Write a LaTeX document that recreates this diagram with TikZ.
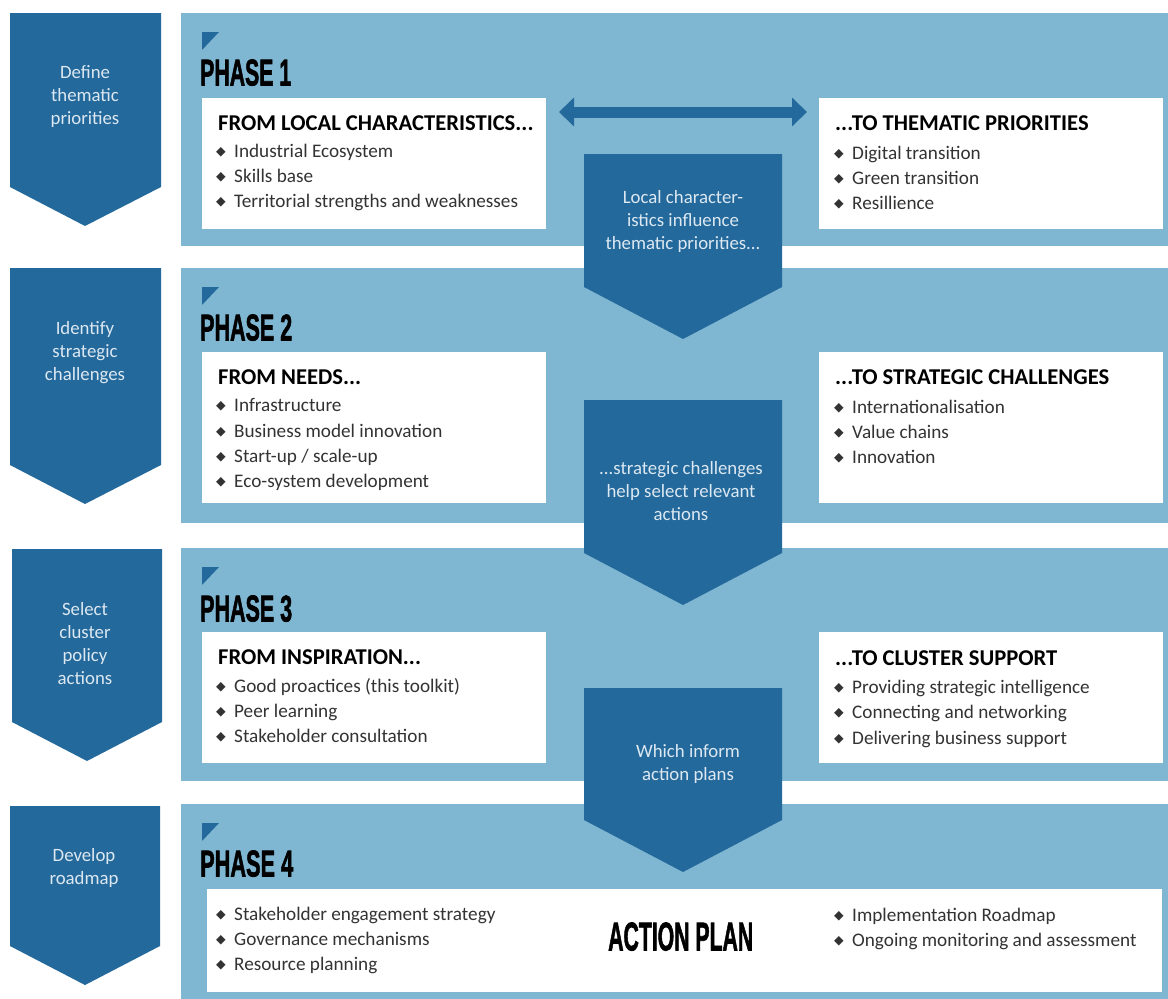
\documentclass[tikz,border=0pt]{standalone}
\usepackage{fontspec}
\setmainfont{Carlito}
\newfontfamily\symfont{DejaVu Sans}
\newfontfamily\headfont[FakeBold=2]{Liberation Sans Bold}
\usetikzlibrary{arrows.meta}
\definecolor{dkblue}{HTML}{24699B}
\definecolor{ltblue}{HTML}{7FB6D2}
\definecolor{bodygray}{HTML}{333333}
\definecolor{paletxt}{HTML}{DCE8F2}
\newcommand\dia{\makebox[18pt][l]{\raisebox{1.2pt}{\symfont\fontsize{12.5}{12.5}\selectfont ◆}}}
\newcommand\phasetxt[3]{\resizebox{#2pt}{#3pt}{\headfont #1}}
\tikzset{
  chev/.style={fill=dkblue},
  panel/.style={fill=ltblue},
  wbox/.style={fill=white},
  item/.style={anchor=base west, inner sep=0pt, text=bodygray, font=\fontsize{19.2}{23}\selectfont},
  head/.style={anchor=base west, inner sep=0pt, text=black, font=\bfseries\fontsize{22.6}{26}\selectfont},
  side/.style={align=center, inner sep=0pt, text=paletxt, font=\fontsize{18.8}{23}\selectfont},
  phase/.style={anchor=south west, inner sep=0pt, text=black},
  marker/.style={fill=dkblue}
}
\begin{document}
\begin{tikzpicture}[x=1pt,y=-1pt]
\useasboundingbox (0,0) rectangle (1168,999);
\fill[white] (0,0) rectangle (1168,999);
% panels
\fill[panel] (181,13) rectangle (1168,246);
\fill[panel] (181,268) rectangle (1168,523);
\fill[panel] (181,548) rectangle (1168,781);
\fill[panel] (181,804) rectangle (1168,999);
% left chevrons
\fill[chev] (10,13) -- (161,13) -- (161,187) -- (85,226) -- (10,187) -- cycle;
\fill[chev] (10,268) -- (161,268) -- (161,465) -- (85,504) -- (10,465) -- cycle;
\fill[chev] (12,549) -- (162,549) -- (162,722) -- (87,761) -- (12,722) -- cycle;
\fill[chev] (10,806) -- (160,806) -- (160,946) -- (85,985) -- (10,946) -- cycle;
\node[side] (s1) at (85,97) {Define\\thematic\\priorities};
\node[side] (s2) at (85,353) {Identify\\strategic\\challenges};
\node[side] (s3) at (85,643.5) {Select\\cluster\\policy\\actions};
\node[side] (s4) at (84,867.5) {Develop\\roadmap};
% markers
\fill[marker] (202,32) -- (219,32) -- (202,50) -- cycle;
\fill[marker] (202,287) -- (219,287) -- (202,305) -- cycle;
\fill[marker] (202,567) -- (219,567) -- (202,585) -- cycle;
\fill[marker] (202,823) -- (219,823) -- (202,841) -- cycle;
% phase labels
\node[phase] (ph1) at (200,86) {\phasetxt{PHASE 1}{91}{26}};
\node[phase] (ph2) at (200,341) {\phasetxt{PHASE 2}{92}{26}};
\node[phase] (ph3) at (200,622) {\phasetxt{PHASE 3}{92}{26}};
\node[phase] (ph4) at (200,877) {\phasetxt{PHASE 4}{93}{26}};
% white boxes
\fill[wbox] (202,98) rectangle (546,229);
\fill[wbox] (819,98) rectangle (1163,229);
\fill[wbox] (202,352) rectangle (546,503);
\fill[wbox] (819,352) rectangle (1163,503);
\fill[wbox] (202,632) rectangle (546,763);
\fill[wbox] (819,632) rectangle (1163,763);
\fill[wbox] (207,889) rectangle (1162,992);
% double arrow
\coordinate (arrL) at (559,112);
\coordinate (arrR) at (807,112);
\draw[dkblue, line width=11pt, {Triangle[width=28pt,length=15pt]}-{Triangle[width=28pt,length=15pt]}] (arrL) -- (arrR);
% center chevrons
\fill[chev] (584,154) -- (782,154) -- (782,287) -- (683,339) -- (584,287) -- cycle;
\fill[chev] (584,400) -- (782,400) -- (782,553) -- (683,605) -- (584,553) -- cycle;
\fill[chev] (584,688) -- (782,688) -- (782,820) -- (683,872) -- (584,820) -- cycle;
\node[side] (c1) at (683,221) {Local character-\\istics influence\\thematic priorities...};
\node[side] (c2) at (681,491) {...strategic challenges\\help select relevant\\actions};
\node[side] (c3) at (688,764) {Which inform\\action plans};
% phase 1 texts
\node[head] (h1l) at (218,130) {FROM LOCAL CHARACTERISTICS...};
\node[item] (i1l1) at (216,157) {\dia Industrial Ecosystem};
\node[item] (i1l2) at (216,182) {\dia Skills base};
\node[item] (i1l3) at (216,207) {\dia Territorial strengths and weaknesses};
\node[head] (h1r) at (835,130) {...TO THEMATIC PRIORITIES};
\node[item] (i1r1) at (834,159) {\dia Digital transition};
\node[item] (i1r2) at (834,184) {\dia Green transition};
\node[item] (i1r3) at (834,209) {\dia Resillience};
% phase 2 texts
\node[head] (h2l) at (218,384) {FROM NEEDS...};
\node[item] (i2l1) at (216,411) {\dia Infrastructure};
\node[item] (i2l2) at (216,437) {\dia Business model innovation};
\node[item] (i2l3) at (216,462) {\dia Start-up / scale-up};
\node[item] (i2l4) at (216,487) {\dia Eco-system development};
\node[head] (h2r) at (835,384) {...TO STRATEGIC CHALLENGES};
\node[item] (i2r1) at (834,413) {\dia Internationalisation};
\node[item] (i2r2) at (834,438) {\dia Value chains};
\node[item] (i2r3) at (834,463) {\dia Innovation};
% phase 3 texts
\node[head] (h3l) at (218,664) {FROM INSPIRATION...};
\node[item] (i3l1) at (216,692) {\dia Good proactices (this toolkit)};
\node[item] (i3l2) at (216,717) {\dia Peer learning};
\node[item] (i3l3) at (216,742) {\dia Stakeholder consultation};
\node[head] (h3r) at (835,665) {...TO CLUSTER SUPPORT};
\node[item] (i3r1) at (834,693) {\dia Providing strategic intelligence};
\node[item] (i3r2) at (834,718) {\dia Connecting and networking};
\node[item] (i3r3) at (834,744) {\dia Delivering business support};
% phase 4 texts
\node[item] (i4l1) at (216,920) {\dia Stakeholder engagement strategy};
\node[item] (i4l2) at (216,945) {\dia Governance mechanisms};
\node[item] (i4l3) at (216,970) {\dia Resource planning};
\node[phase] (ap) at (608,951) {\phasetxt{ACTION PLAN}{145}{28}};
\node[item] (i4r1) at (834,921) {\dia Implementation Roadmap};
\node[item] (i4r2) at (834,946) {\dia Ongoing monitoring and assessment};
\end{tikzpicture}
\end{document}
